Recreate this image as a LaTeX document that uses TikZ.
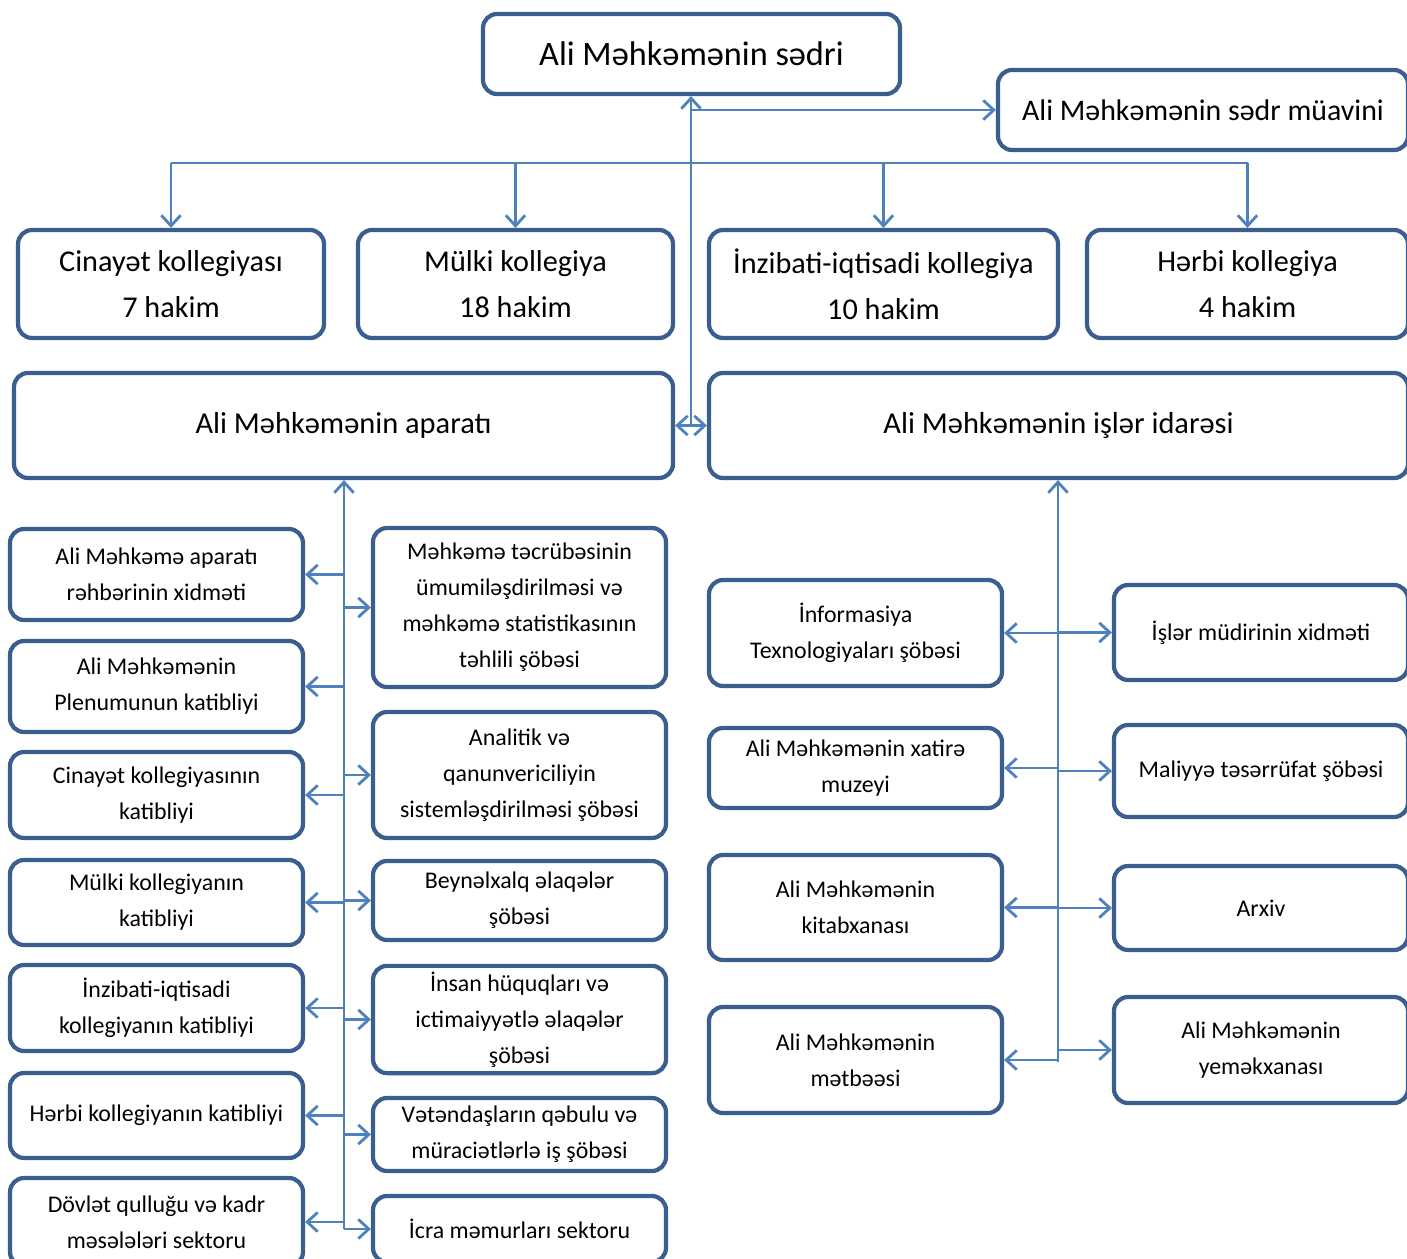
\documentclass[tikz,border=0pt]{standalone}
\usepackage{fontspec}
\setmainfont{Carlito}
\usetikzlibrary{arrows.meta}
\definecolor{boxblue}{RGB}{58,95,142}
\definecolor{lineblue}{RGB}{79,129,189}

\begin{document}
\begin{tikzpicture}[
    >={Straight Barb[length=6pt,width=11pt]},
    box/.style={draw=boxblue,line width=2.4pt,rounded corners=8pt,align=center,text=black},
    bigbox/.style={box,font=\fontsize{17.2}{26}\selectfont},
    smallbox/.style={box,minimum width=5.86cm,font=\fontsize{13.6}{20.5}\selectfont},
    conn/.style={draw=lineblue,line width=1.6pt}
]
\useasboundingbox (0,0) rectangle (28.14,-25.18);

% top
\node[box,minimum width=8.34cm,minimum height=1.6cm,font=\fontsize{19.5}{23}\selectfont] (sedr) at (13.83,-1.08) {Ali Məhkəmənin sədri};
\node[box,minimum width=8.2cm,minimum height=1.6cm,font=\fontsize{17}{21}\selectfont] (muavin) at (24.06,-2.2) {Ali Məhkəmənin sədr müavini};

% kollegiyalar
\node[bigbox,minimum width=6.12cm,minimum height=2.16cm] (cinayet) at (3.42,-5.68) {Cinayət kollegiyası\\7 hakim};
\node[bigbox,minimum width=6.30cm,minimum height=2.16cm] (mulki) at (10.31,-5.68) {Mülki kollegiya\\18 hakim};
\node[bigbox,minimum width=6.98cm,minimum height=2.16cm] (inzibati) at (17.67,-5.68) {İnzibati-iqtisadi kollegiya\\10 hakim};
\node[bigbox,minimum width=6.42cm,minimum height=2.16cm] (herbi) at (24.95,-5.68) {Hərbi kollegiya\\4 hakim};

% aparat, idare
\node[box,minimum width=13.18cm,minimum height=2.1cm,font=\fontsize{17.3}{20}\selectfont] (aparat) at (6.87,-8.51) {Ali Məhkəmənin aparatı};
\node[box,minimum width=13.98cm,minimum height=2.1cm,font=\fontsize{17.3}{20}\selectfont] (idare) at (21.17,-8.51) {Ali Məhkəmənin işlər idarəsi};

% aparat sobeleri, sol
\foreach \i/\y/\h/\t in {
    1/-11.49/1.82/{Ali Məhkəmə aparatı\\rəhbərinin xidməti},
    2/-13.73/1.82/{Ali Məhkəmənin\\Plenumunun katibliyi},
    3/-15.90/1.72/{Cinayət kollegiyasının\\katibliyi},
    4/-18.05/1.70/{Mülki kollegiyanın\\katibliyi},
    5/-20.16/1.72/{İnzibati-iqtisadi\\kollegiyanın katibliyi},
    6/-22.31/1.70/{Hərbi kollegiyanın katibliyi},
    7/-24.44/1.76/{Dövlət qulluğu və kadr\\məsələləri sektoru}}
  \node[smallbox,minimum height=\h cm] (L\i) at (3.13,\y) {\t};

% aparat sobeleri, sag
\foreach \i/\y/\h/\t in {
    1/-12.15/3.18/{Məhkəmə təcrübəsinin\\ümumiləşdirilməsi və\\məhkəmə statistikasının\\təhlili şöbəsi},
    2/-15.50/2.52/{Analitik və\\qanunvericiliyin\\sistemləşdirilməsi şöbəsi},
    3/-18.01/1.58/{Beynəlxalq əlaqələr\\şöbəsi},
    4/-20.39/2.14/{İnsan hüquqları və\\ictimaiyyətlə əlaqələr\\şöbəsi},
    5/-22.69/1.46/{Vətəndaşların qəbulu və\\müraciətlərlə iş şöbəsi},
    6/-24.58/1.32/{İcra məmurları sektoru}}
  \node[smallbox,minimum height=\h cm] (M\i) at (10.39,\y) {\t};

% idare sobeleri
\foreach \i/\y/\h/\t in {
    1/-12.66/2.12/{İnformasiya\\Texnologiyaları şöbəsi},
    2/-15.36/1.60/{Ali Məhkəmənin xatirə\\muzeyi},
    3/-18.15/2.10/{Ali Məhkəmənin\\kitabxanası},
    4/-21.20/2.12/{Ali Məhkəmənin\\mətbəəsi}}
  \node[smallbox,minimum height=\h cm] (P\i) at (17.11,\y) {\t};
\foreach \i/\y/\h/\t in {
    1/-12.65/1.90/{İşlər müdirinin xidməti},
    2/-15.42/1.84/{Maliyyə təsərrüfat şöbəsi},
    3/-18.16/1.68/{Arxiv},
    4/-21.00/2.12/{Ali Məhkəmənin\\yeməkxanası}}
  \node[smallbox,minimum width=5.88cm,minimum height=\h cm] (Q\i) at (25.22,\y) {\t};

% connectors
\coordinate (hub) at (13.82,-8.51);
\coordinate (bus) at (0,-3.26);
\draw[conn,->] (hub) -- (hub |- sedr.south);
\draw[conn,<->] (aparat.east) -- (idare.west);
\draw[conn,->] (hub |- muavin.west) -- (muavin.west);
\draw[conn] (cinayet.north |- bus) -- (herbi.north |- bus);
\foreach \n in {cinayet,mulki,inzibati,herbi}
  \draw[conn,->] (\n.north |- bus) -- (\n.north);

\coordinate (trunkL) at (6.88,-24.58);
\draw[conn,->] (trunkL) -- (trunkL |- aparat.south);
\foreach \i in {1,...,7}
  \draw[conn,->] (trunkL |- L\i.east) -- (L\i.east);
\foreach \i in {1,...,6}
  \draw[conn,->] (trunkL |- M\i.west) -- (M\i.west);

\coordinate (trunkR) at (21.16,-21.24);
\draw[conn,->] (trunkR) -- (trunkR |- idare.south);
\foreach \i in {1,...,4}{
  \draw[conn,->] (trunkR |- P\i.east) -- (P\i.east);
  \draw[conn,->] (trunkR |- Q\i.west) -- (Q\i.west);
}
\end{tikzpicture}
\end{document}
